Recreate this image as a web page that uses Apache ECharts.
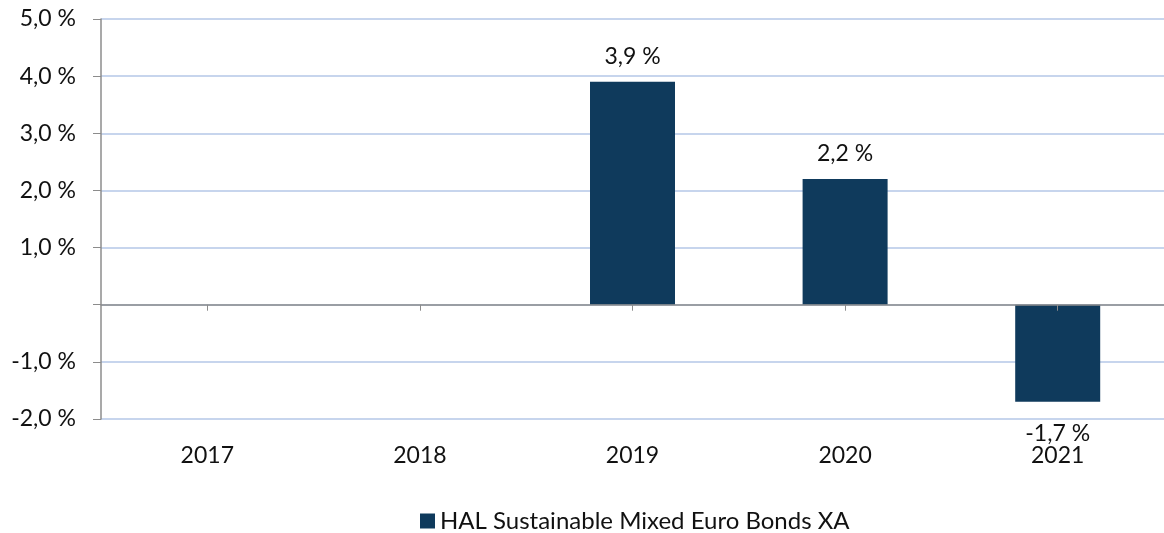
<!DOCTYPE html>
<html>
<head>
<meta charset="UTF-8">
<title>HAL Sustainable Mixed Euro Bonds XA</title>
<script type="text/javascript" src="https://cdn.jsdelivr.net/npm/echarts@6/dist/echarts.min.js"></script>
</head>
<body style="margin:0;background:#fff;">
<div id="main" style="width:1164px;height:533px;"></div>

<script type="text/javascript">
// data
var years = ['2017', '2018', '2019', '2020', '2021'];
var returns = [null, null, 3.9, 2.2, -1.7];
var seriesName = 'HAL Sustainable Mixed Euro Bonds XA';

var FONT = 'Lato';
var BAR = '#0f3a5c';

function pct(v) {
  return v.toFixed(1).replace('.', ',') + ' %';
}

// negative values get their label under the bar
var barData = returns.map(function (v) {
  if (v === null) return '-';
  return {
    value: v,
    label: { position: v < 0 ? 'bottom' : 'top', distance: v < 0 ? 20 : 14 }
  };
});

var mychart = echarts.init(document.getElementById('main'));

var option = {
  animation: false,
  textStyle: { fontFamily: FONT },
  grid: { left: 101, right: -6, top: 19, bottom: 114 },
  legend: {
    data: [seriesName],
    top: 509,
    left: 415,
    padding: [0, 5, 0, 5],
    icon: 'rect',
    itemWidth: 15,
    itemHeight: 15,
    itemGap: 8,
    textStyle: { fontFamily: FONT, fontSize: 24, color: '#111' }
  },
  xAxis: [
    {
      // zero line with ticks
      type: 'category',
      data: years,
      axisLine: { onZero: true, lineStyle: { color: '#8c8c8c', width: 1.5 } },
      axisTick: { show: true, alignWithLabel: true, length: 6, lineStyle: { color: '#8c8c8c' } },
      axisLabel: { show: false },
      z: 5
    },
    {
      // labels at the bottom
      type: 'category',
      data: years,
      position: 'bottom',
      offset: 0,
      axisLine: { show: false, onZero: false },
      axisTick: { show: false },
      axisLabel: { margin: 25, fontFamily: FONT, fontSize: 23, color: '#111' }
    }
  ],
  yAxis: {
    type: 'value',
    min: -2,
    max: 5,
    interval: 1,
    axisLine: { show: true, lineStyle: { color: '#8c8c8c', width: 1.5 } },
    axisTick: { show: true, length: 8, lineStyle: { color: '#8c8c8c' } },
    splitLine: { show: true, lineStyle: { color: '#b4c7e7', width: 1.5 } },
    axisLabel: {
      margin: 25,
      fontFamily: FONT,
      fontSize: 23,
      color: '#111',
      formatter: function (v) { return v === 0 ? '' : pct(v); }
    }
  },
  series: [{
    name: seriesName,
    type: 'bar',
    xAxisIndex: 0,
    barWidth: 85,
    itemStyle: { color: BAR },
    label: {
      show: true,
      fontFamily: FONT,
      fontSize: 23,
      color: '#111',
      formatter: function (p) { return pct(p.value); }
    },
    data: barData
  }]
};

mychart.setOption(option);
</script>
</body>
</html>
